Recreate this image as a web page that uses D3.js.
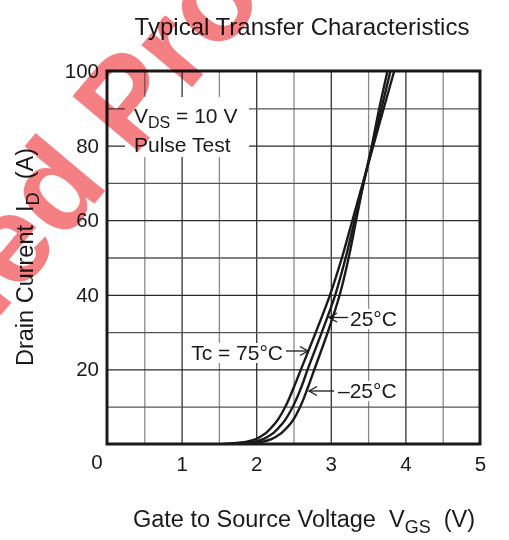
<!DOCTYPE html>
<html><head><meta charset="utf-8">
<script src="https://cdn.jsdelivr.net/npm/d3@7"></script>
<style>
body{margin:0;background:#fff}
text{font-family:Arial,"Liberation Sans",sans-serif;fill:#1a1a1a}
</style></head>
<body><svg id="c" width="509" height="540"></svg>
<script>
// ---- data ----
const xTickValues = [1, 2, 3, 4, 5];
const yTickValues = [20, 40, 60, 80, 100];
const drainCurrent = [0, 0.5, 1, 2, 5, 10, 15, 20, 30, 40, 50, 60, 70, 80, 90, 100];
const vgsTc75  = [1.55, 1.84, 1.95, 2.06, 2.23, 2.39, 2.50, 2.60, 2.80, 2.99, 3.15, 3.29, 3.43, 3.57, 3.71, 3.85];
const vgsTc25  = [1.65, 1.94, 2.05, 2.16, 2.33, 2.49, 2.60, 2.69, 2.88, 3.06, 3.20, 3.32, 3.44, 3.56, 3.68, 3.80];
const vgsTcM25 = [1.75, 2.05, 2.16, 2.27, 2.44, 2.59, 2.69, 2.78, 2.96, 3.12, 3.24, 3.34, 3.44, 3.55, 3.65, 3.76];
const seriesNames = ["Tc = 75°C", "25°C", "–25°C"];

const svg = d3.select("#c");
const L = 107, R = 480, T = 71, B = 444;
const x = d3.scaleLinear().domain([0, 5]).range([L, R]);
const y = d3.scaleLinear().domain([0, 100]).range([B, T]);
const NB = "\u00a0";

// title
svg.append("text").attr("x", 302).attr("y", 35).attr("text-anchor", "middle")
  .attr("font-size", 24).text("Typical Transfer Characteristics");

// grid via axes
const gx = svg.append("g").attr("transform", `translate(0,${B})`)
  .call(d3.axisBottom(x).tickValues(d3.range(0.5, 5, 0.5)).tickSize(-(B - T)).tickFormat(""));
gx.select(".domain").remove();
gx.selectAll(".tick line").attr("stroke", d => Number.isInteger(d) ? "#333" : "#8a8a8a").attr("stroke-width", 1.3);
const gy = svg.append("g").attr("transform", `translate(${L},0)`)
  .call(d3.axisLeft(y).tickValues(d3.range(10, 100, 10)).tickSize(-(R - L)).tickFormat(""));
gy.select(".domain").remove();
gy.selectAll(".tick line").attr("stroke", d => d % 20 === 0 ? "#2a2a2a" : "#555").attr("stroke-width", 1.3);

// curves
const line = d3.line().x(d => x(d[0])).y(d => y(d[1])).curve(d3.curveMonotoneY);
svg.append("clipPath").attr("id", "clip").append("rect")
  .attr("x", L).attr("y", T).attr("width", R - L).attr("height", B - T);
[vgsTc75, vgsTc25, vgsTcM25].forEach(vs => {
  svg.append("path").attr("clip-path", "url(#clip)")
    .attr("d", line(vs.map((v, i) => [v, drainCurrent[i]])))
    .attr("fill", "none").attr("stroke", "#1a1a1a").attr("stroke-width", 2.4);
});

// frame
svg.append("rect").attr("x", L).attr("y", T).attr("width", R - L).attr("height", B - T)
  .attr("fill", "none").attr("stroke", "#1a1a1a").attr("stroke-width", 3);

// tick labels
const ax = svg.append("g").attr("transform", `translate(0,${B})`)
  .call(d3.axisBottom(x).tickValues(xTickValues).tickFormat(d3.format("d")).tickSize(0).tickPadding(12));
ax.select(".domain").remove();
ax.selectAll("text").attr("font-size", 20.5).attr("font-family", "Arial,'Liberation Sans',sans-serif").attr("fill", "#1a1a1a");
svg.append("text").attr("x", x(0) - 10).attr("y", 469).attr("text-anchor", "middle").attr("font-size", 20.5).text("0");
const ay = svg.append("g").attr("transform", `translate(${L},0)`)
  .call(d3.axisLeft(y).tickValues(yTickValues).tickSize(0).tickPadding(8));
ay.select(".domain").remove();
ay.selectAll("text").attr("font-size", 20.5).attr("font-family", "Arial,'Liberation Sans',sans-serif").attr("fill", "#1a1a1a");

// axis titles
const xt = svg.append("text").attr("x", 304).attr("y", 527).attr("text-anchor", "middle").attr("font-size", 23.5);
xt.append("tspan").text("Gate to Source Voltage" + NB + NB + "V");
xt.append("tspan").attr("dy", 6).attr("font-size", 18).text("GS");
xt.append("tspan").attr("dy", -6).text(NB + NB + "(V)");
const yt = svg.append("text").attr("transform", "translate(33,257) rotate(-90)").attr("text-anchor", "middle").attr("font-size", 23.5);
yt.append("tspan").text("Drain Current" + NB + NB + "I");
yt.append("tspan").attr("dy", 6).attr("font-size", 18).text("D");
yt.append("tspan").attr("dy", -6).text(NB + NB + "(A)");

// condition box
svg.append("rect").attr("x", 125).attr("y", 97).attr("width", 124).attr("height", 60).attr("fill", "#fff");
const c1 = svg.append("text").attr("x", 134).attr("y", 123).attr("font-size", 21);
c1.append("tspan").text("V");
c1.append("tspan").attr("dy", 5).attr("font-size", 16).text("DS");
c1.append("tspan").attr("dy", -5).text(" = 10 V");
svg.append("text").attr("x", 134).attr("y", 152).attr("font-size", 21).text("Pulse Test");

// curve labels
function arrowLabel(name, tx, ty, x1, x2, yy, anchor) {
  const g = svg.append("g");
  const bg = g.append("rect").attr("fill", "#fff");
  const t = g.append("text").attr("x", tx).attr("y", ty).attr("font-size", 21).attr("text-anchor", anchor).text(name);
  const bb = t.node().getBBox();
  bg.attr("x", bb.x - 2).attr("y", bb.y + 2).attr("width", bb.width + 4).attr("height", bb.height - 3);
  g.append("line").attr("x1", x1).attr("x2", x2).attr("y1", yy).attr("y2", yy).attr("stroke", "#1a1a1a").attr("stroke-width", 1.3);
  const s = x2 > x1 ? -1 : 1; // arrow head at x2
  g.append("path").attr("d", `M${x2 + s * 8},${yy - 4.5}L${x2},${yy}L${x2 + s * 8},${yy + 4.5}`)
    .attr("fill", "none").attr("stroke", "#1a1a1a").attr("stroke-width", 1.3);
}
arrowLabel(seriesNames[0], 283, 360, 286, 308, 351, "end");
arrowLabel(seriesNames[1], 350, 326, 348, 329, 317.5, "start");
arrowLabel(seriesNames[2], 338, 398, 334, 309, 391, "start");

// watermark
const wm = svg.append("text").attr("font-size", 125).attr("font-weight", "bold")
  .style("mix-blend-mode", "multiply").style("fill", "rgb(245,128,131)")
  .text("Discontinued Product");
const pStart = wm.node().getStartPositionOfChar(13).x;
wm.attr("transform", `translate(133,158) rotate(-50) translate(${-pStart},0)`);
</script></body></html>
